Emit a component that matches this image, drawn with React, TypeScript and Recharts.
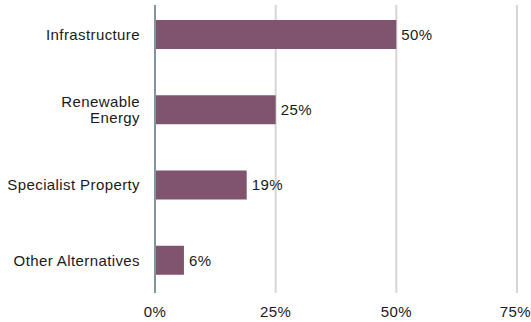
import React from "react";
import { BarChart, Bar, XAxis, YAxis, CartesianGrid, LabelList } from "recharts";

const categories = ["Infrastructure", "Renewable\nEnergy", "Specialist Property", "Other Alternatives"];
const shares = [50, 25, 19, 6];
const xTicks = [0, 25, 50, 75];

const data = categories.map((c, i) => ({ name: c, value: shares[i] }));

const FONT = "'Liberation Sans', Arial, sans-serif";
const textStyle = { fontSize: 15, fill: "#1a1a1a", fontFamily: FONT, letterSpacing: 0.4 };

const YTick = (props: any) => {
  const { x, y, payload } = props;
  const lines = String(payload.value).split("\n");
  const lh = 16;
  const start = -((lines.length - 1) * lh) / 2;
  return (
    <text x={x} y={y} textAnchor="end" style={textStyle}>
      {lines.map((l, i) => (
        <tspan key={i} x={x} y={y + start + i * lh} dy="0.355em">
          {l}
        </tspan>
      ))}
    </text>
  );
};

export default function App() {
  return (
    <div style={{ position: "absolute", left: 0, top: 0 }}>
      <BarChart
        width={531}
        height={322}
        data={data}
        layout="vertical"
        margin={{ top: 5, right: 14, bottom: 0, left: 0 }}
        barCategoryGap={0}
      >
        <CartesianGrid horizontal={false} vertical={true} stroke="#d6d6d6" strokeWidth={2} />
        <XAxis
          type="number"
          domain={[0, 75]}
          ticks={xTicks}
          tickFormatter={(v: number) => `${v}%`}
          axisLine={false}
          tickLine={false}
          tickSize={6}
          tickMargin={7}
          height={29}
          tick={textStyle}
        />
        <YAxis
          type="category"
          dataKey="name"
          width={155}
          axisLine={{ stroke: "#7f949d", strokeWidth: 2 }}
          tickLine={false}
          tickSize={6}
          tickMargin={9}
          padding={{ top: -8, bottom: -5 }}
          tick={<YTick />}
          interval={0}
        />
        <Bar dataKey="value" fill="#80546f" barSize={29} isAnimationActive={false}>
          <LabelList
            dataKey="value"
            position="right"
            offset={5}
            formatter={(v: any) => `${v}%`}
            style={textStyle}
          />
        </Bar>
      </BarChart>
    </div>
  );
}
